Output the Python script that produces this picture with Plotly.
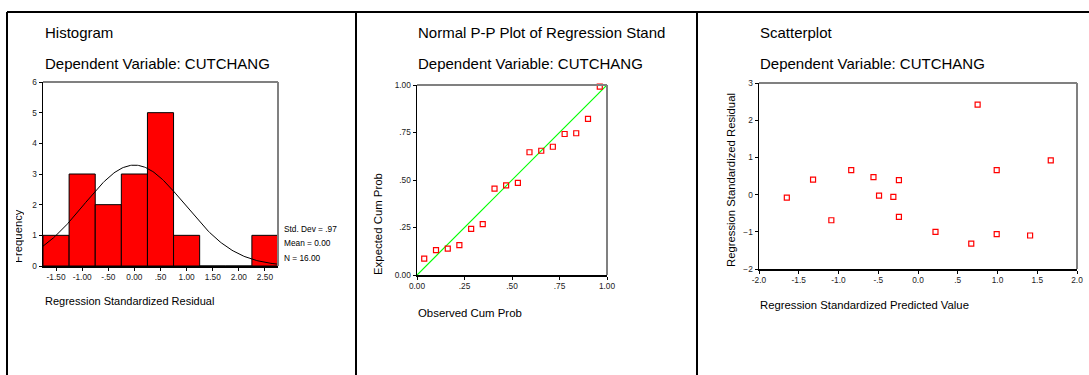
import numpy as np
import plotly.graph_objects as go

# ---------------- data ----------------
hist_centers = [-1.5, -1.0, -0.5, 0.0, 0.5, 1.0, 1.5, 2.0, 2.5]
hist_counts = [1, 3, 2, 3, 5, 1, 0, 0, 1]
hist_ticktext = ["-1.50", "-1.00", "-.50", "0.00", ".50", "1.00", "1.50", "2.00", "2.50"]
hist_mean = 0.0
hist_sd = 0.97
hist_n = 16
bin_width = 0.5

pp_observed = [0.038, 0.100, 0.162, 0.223, 0.285, 0.346, 0.408, 0.469,
               0.531, 0.592, 0.654, 0.715, 0.777, 0.838, 0.900, 0.962]
pp_expected = [0.086, 0.131, 0.139, 0.157, 0.243, 0.268, 0.455, 0.472,
               0.485, 0.646, 0.654, 0.675, 0.742, 0.746, 0.822, 0.991]
pp_ticks = [0, 0.25, 0.5, 0.75, 1.0]
pp_ticktext = ["0.00", ".25", ".50", ".75", "1.00"]

sc_pred = [-1.65, -1.32, -1.09, -0.84, -0.56, -0.49, -0.31, -0.24,
           -0.24, 0.22, 0.67, 0.75, 0.99, 0.99, 1.41, 1.67]
sc_resid = [-0.08, 0.40, -0.69, 0.66, 0.47, -0.03, -0.06, 0.39,
            -0.60, -1.00, -1.32, 2.42, 0.66, -1.06, -1.10, 0.92]
sc_xticks = [-2.0, -1.5, -1.0, -0.5, 0.0, 0.5, 1.0, 1.5, 2.0]
sc_xticktext = ["-2.0", "-1.5", "-1.0", "-.5", "0.0", ".5", "1.0", "1.5", "2.0"]
sc_yticks = [-2, -1, 0, 1, 2, 3]

W, H = 1089, 375
FONT = "Arial, Liberation Sans, sans-serif"


def px(x):
    return x / W


def py(y):
    return 1 - y / H


fig = go.Figure()

# Histogram
fig.add_trace(go.Bar(x=hist_centers, y=hist_counts, width=bin_width,
                     marker=dict(color="#FF0000", line=dict(color="black", width=1)),
                     xaxis="x", yaxis="y", showlegend=False))
curve_x = np.linspace(-1.75, 2.75, 200)
curve_y = hist_n * bin_width / (hist_sd * np.sqrt(2 * np.pi)) * np.exp(-0.5 * ((curve_x - hist_mean) / hist_sd) ** 2)
fig.add_trace(go.Scatter(x=curve_x, y=curve_y, mode="lines", line=dict(color="black", width=1),
                         xaxis="x", yaxis="y", showlegend=False))

# P-P plot
fig.add_trace(go.Scatter(x=[0, 1], y=[0, 1], mode="lines", line=dict(color="#00FF00", width=1.2),
                         xaxis="x2", yaxis="y2", showlegend=False))
fig.add_trace(go.Scatter(x=pp_observed, y=pp_expected, mode="markers",
                         marker=dict(symbol="square-open", size=5, color="#FF0000", line=dict(width=1.2)),
                         xaxis="x2", yaxis="y2", showlegend=False, cliponaxis=False))

# Scatter
fig.add_trace(go.Scatter(x=sc_pred, y=sc_resid, mode="markers",
                         marker=dict(symbol="square-open", size=5, color="#FF0000", line=dict(width=1.2)),
                         xaxis="x3", yaxis="y3", showlegend=False))

axis_common = dict(showline=True, linecolor="black", linewidth=1.5, ticks="outside", ticklen=3,
                   tickcolor="black", tickwidth=1, showgrid=False, zeroline=False, automargin=False,
                   tickfont=dict(family=FONT, size=8.3, color="#222"), fixedrange=True)

fig.update_layout(
    template="none",
    width=W, height=H, margin=dict(l=0, r=0, t=0, b=0, pad=0), autosize=False,
    paper_bgcolor="white", plot_bgcolor="white",
    font=dict(family=FONT, color="black"),
    bargap=0,
    xaxis=dict(domain=[px(43), px(278)], range=[-1.75, 2.75], tickvals=hist_centers,
               ticktext=hist_ticktext, anchor="y", **axis_common),
    yaxis=dict(domain=[py(266), py(82)], range=[0, 6], tickvals=[0, 1, 2, 3, 4, 5, 6],
               anchor="x", **axis_common),
    xaxis2=dict(domain=[px(417), px(607)], range=[0, 1], tickvals=pp_ticks, ticktext=pp_ticktext,
                anchor="y2", **axis_common),
    yaxis2=dict(domain=[py(275), py(85)], range=[0, 1], tickvals=pp_ticks, ticktext=pp_ticktext,
                anchor="x2", **axis_common),
    xaxis3=dict(domain=[px(759), px(1077)], range=[-2, 2], tickvals=sc_xticks, ticktext=sc_xticktext,
                anchor="y3", **axis_common),
    yaxis3=dict(domain=[py(269), py(83)], range=[-2, 3], tickvals=sc_yticks,
                anchor="x3", **axis_common),
)

shapes = []
# gray top/right frame of each plot
for xr, yr in [("x", "y"), ("x2", "y2"), ("x3", "y3")]:
    shapes.append(dict(type="line", xref=xr + " domain", yref=yr + " domain", x0=0, x1=1, y0=1, y1=1,
                       line=dict(color="#808080", width=2)))
    shapes.append(dict(type="line", xref=xr + " domain", yref=yr + " domain", x0=1, x1=1, y0=0, y1=1,
                       line=dict(color="#808080", width=2)))
# panel borders
shapes.append(dict(type="line", xref="paper", yref="paper", x0=px(7), x1=1, y0=py(12), y1=py(12),
                   line=dict(color="black", width=2)))
for xv in [7, 356, 697]:
    shapes.append(dict(type="line", xref="paper", yref="paper", x0=px(xv), x1=px(xv), y0=py(12), y1=0,
                       line=dict(color="black", width=2)))
fig.update_layout(shapes=shapes)

ann = []


def text(x, y, s, size, xanchor="left", yanchor="middle", angle=0, **kw):
    ann.append(dict(x=px(x), y=py(y), xref="paper", yref="paper", text=s, showarrow=False,
                    xanchor=xanchor, yanchor=yanchor, textangle=angle,
                    font=dict(family=FONT, size=size, color="black"), **kw))


# titles
text(43, 33, "Histogram", 15)
text(43, 63, "Dependent Variable: CUTCHANG", 15)
text(416, 33, "Normal P-P Plot of Regression Stand", 15)
text(416, 63, "Dependent Variable: CUTCHANG", 15)
text(758, 33, "Scatterplot", 15)
text(758, 63, "Dependent Variable: CUTCHANG", 15)

# axis titles
text(43, 301, "Regression Standardized Residual", 11)
text(416, 313, "Observed Cum Prob", 11.4)
text(758, 305, "Regression Standardized Predicted Value", 11.3)
text(378, 277, "Expected Cum Prob", 11.4, xanchor="center", yanchor="bottom", angle=-90)
text(731, 269, "Regression Standardized Residual", 11.3, xanchor="center", yanchor="bottom", angle=-90)
text(20, 266, "Frequency", 11.3, xanchor="center", yanchor="bottom", angle=-90,
     width=56, height=8, valign="bottom")

# stats
text(282, 229, "Std. Dev = .97", 8.3)
text(282, 243, "Mean = 0.00", 8.3)
text(282, 258, "N = 16.00", 8.3)

fig.update_layout(annotations=ann)
fig.write_html(
    "out.html",
    config={"displayModeBar": False, "staticPlot": True},
    post_script="document.documentElement.style.margin='0';document.body.style.margin='0';"
                "document.body.style.padding='0';document.body.style.overflow='hidden';",
)
